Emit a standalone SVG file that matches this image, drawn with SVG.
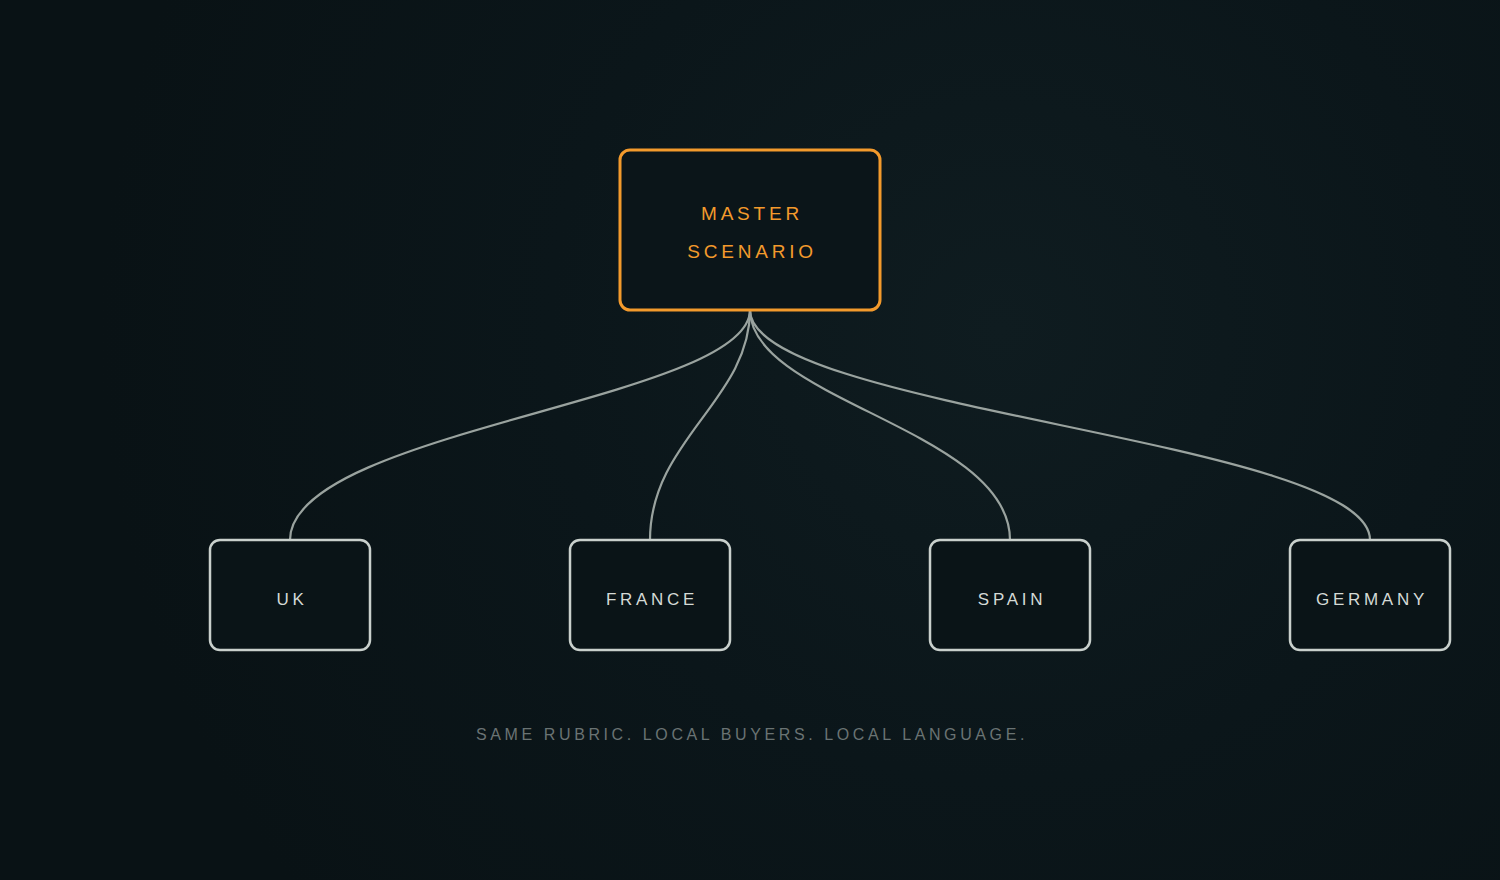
<svg xmlns="http://www.w3.org/2000/svg" width="1500" height="880" viewBox="0 0 1500 880">
  <defs>
    <radialGradient id="bg" cx="1000" cy="330" r="900" gradientUnits="userSpaceOnUse">
      <stop offset="0" stop-color="#0f1c20"/>
      <stop offset="0.5" stop-color="#0b161a"/>
      <stop offset="1" stop-color="#091215"/>
    </radialGradient>
    <style>
      .master rect { fill: #0b1519; stroke: #f39a2c; stroke-width: 3; }
      .master text { fill: #f39a2c; font-family: "Liberation Sans", Arial, sans-serif; font-size: 19px; letter-spacing: 3.8px; text-anchor: middle; }
      .child rect { fill: #0a1417; stroke: #c9d0cc; stroke-width: 2.5; }
      .child text { fill: #d4dad6; font-family: "Liberation Sans", Arial, sans-serif; font-size: 17px; letter-spacing: 3.7px; text-anchor: middle; }
      .conn path { fill: none; stroke: #9aa39f; stroke-width: 2.2; }
      .foot { fill: #6a7373; font-family: "Liberation Sans", Arial, sans-serif; font-size: 16px; letter-spacing: 3.6px; text-anchor: middle; }
    </style>
  </defs>
  <rect width="1500" height="880" fill="url(#bg)"/>
  <g id="connectors" class="conn">
    <path d="M750,310 C750,400 290,430 290,540"/>
    <path d="M750,310 C750,400 650,440 650,540"/>
    <path d="M750,310 C750,400 1010,430 1010,540"/>
    <path d="M750,310 C750,410 1370,440 1370,540"/>
  </g>
  <g id="master" class="master">
    <rect x="620" y="150" width="260" height="160" rx="10"/>
    <text x="752" y="220">MASTER</text>
    <text x="752" y="258">SCENARIO</text>
  </g>
  <g id="uk" class="child">
    <rect x="210" y="540" width="160" height="110" rx="10"/>
    <text x="292" y="605">UK</text>
  </g>
  <g id="france" class="child">
    <rect x="570" y="540" width="160" height="110" rx="10"/>
    <text x="652" y="605">FRANCE</text>
  </g>
  <g id="spain" class="child">
    <rect x="930" y="540" width="160" height="110" rx="10"/>
    <text x="1012" y="605">SPAIN</text>
  </g>
  <g id="germany" class="child">
    <rect x="1290" y="540" width="160" height="110" rx="10"/>
    <text x="1372" y="605">GERMANY</text>
  </g>
  <text class="foot" x="752" y="740">SAME RUBRIC. LOCAL BUYERS. LOCAL LANGUAGE.</text>
</svg>
